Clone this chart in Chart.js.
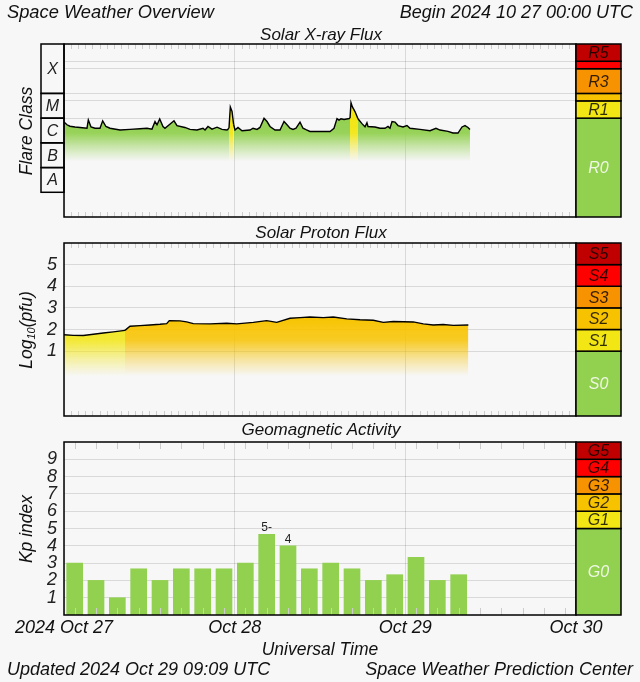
<!DOCTYPE html>
<html><head><meta charset="utf-8">
<script src="https://cdn.jsdelivr.net/npm/chart.js@4.4.0/dist/chart.umd.min.js"></script>
<style>
html,body{margin:0;padding:0;background:#f7f7f7;}
#wrap{position:relative;width:640px;height:682px;overflow:hidden;font-family:'Liberation Sans',Arial,Helvetica,sans-serif;font-style:italic;color:#111;}
canvas{position:absolute;left:0;top:0;}
.t{position:absolute;white-space:nowrap;line-height:20px;}
.c{text-align:center;width:300px;}
.rot{position:absolute;width:200px;height:20px;line-height:20px;text-align:center;transform:rotate(-90deg);font-size:17.5px;white-space:nowrap;}
.rot sub{font-size:11px;vertical-align:-3px;line-height:0;}
</style></head><body>
<div id="wrap">
<canvas id="cx" width="640" height="682"></canvas>
<canvas id="cp" width="640" height="682"></canvas>
<canvas id="ck" width="640" height="682"></canvas>
<div class="t" style="left:7px;top:2px;font-size:18.3px">Space Weather Overview</div>
<div class="t" style="right:7px;top:2px;font-size:18px">Begin 2024 10 27 00:00 UTC</div>
<div class="t c" style="left:171px;top:25px;font-size:17px">Solar X-ray Flux</div>
<div class="t c" style="left:171px;top:223px;font-size:17px">Solar Proton Flux</div>
<div class="t c" style="left:171px;top:420px;font-size:17px">Geomagnetic Activity</div>
<div class="t c" style="left:170px;top:639px;font-size:17.5px">Universal Time</div>
<div class="t" style="left:7px;top:659px;font-size:18px">Updated 2024 Oct 29 09:09 UTC</div>
<div class="t" style="right:7px;top:659px;font-size:18px">Space Weather Prediction Center</div>
<div class="rot" style="left:-74.5px;top:121px">Flare Class</div>
<div class="rot" style="left:-74.5px;top:320px">Log<sub>10</sub>(pfu)</div>
<div class="rot" style="left:-74.5px;top:518.5px">Kp index</div>
</div>
<script>
const FONT = "'Liberation Sans', Arial, Helvetica, sans-serif";
const LEVEL_COLORS = ['#92d050','#f2e614','#f7c300','#f79200','#ff0000','#c00000'];
const LEVEL_RGB = ['146,208,80','242,230,20','247,195,0','247,146,0','255,0,0','192,0,0'];
const GRID = 'rgba(0,0,0,0.12)';

// shared time axis (hours since 2024-10-27 00:00 UTC)
const dayTickHours = [0, 24, 48, 72];
const dayTickLabels = ['2024 Oct 27', 'Oct 28', 'Oct 29', 'Oct 30'];

// Solar X-ray flux (W/m^2)
const xrayHours = [0.0,0.42,0.84,1.55,2.25,3.23,3.42,3.8,4.36,5.06,5.44,5.9,6.47,7.88,9.28,10.69,11.67,12.37,12.8,13.08,13.46,13.92,14.2,15.47,15.89,17.0,17.72,18.7,19.55,19.83,20.25,20.81,21.52,22.22,22.92,23.2,23.39,23.63,23.86,24.05,24.47,25.03,26.16,26.58,27.14,27.56,28.13,28.55,28.97,29.67,30.38,30.94,31.36,31.78,32.2,32.63,33.19,33.61,34.03,34.59,36.0,37.41,37.97,38.39,38.67,38.95,39.38,39.94,40.22,40.36,40.54,40.92,41.34,41.9,42.33,42.6,42.75,43.73,44.44,45.14,45.56,45.84,46.13,46.55,46.97,47.67,48.23,48.66,50.06,51.47,52.31,52.88,54.0,54.7,55.41,55.97,56.39,56.81,57.09];
const xrayFlux = [6.9e-6,5.4e-6,4.7e-6,4.4e-6,4.2e-6,3.9e-6,8.5e-6,4.4e-6,3.9e-6,3.9e-6,7.8e-6,4.6e-6,3.9e-6,3.3e-6,3.5e-6,3.7e-6,3.9e-6,3.6e-6,7.3e-6,5.4e-6,9.2e-6,4.6e-6,3.9e-6,7.8e-6,5.0e-6,4.2e-6,3.5e-6,3.3e-6,3.9e-6,3.3e-6,4.6e-6,3.6e-6,4.3e-6,3.5e-6,3.3e-6,3.9e-6,2.8e-5,1.85e-5,5.4e-6,3.3e-6,4.2e-6,3.1e-6,3.3e-6,3.9e-6,3.5e-6,4.2e-6,9.8e-6,7.3e-6,4.6e-6,3.3e-6,3.3e-6,7.3e-6,5.4e-6,3.9e-6,3.5e-6,3.9e-6,6.9e-6,3.9e-6,3.4e-6,2.9e-6,2.9e-6,2.9e-6,3.9e-6,9.6e-6,8.3e-6,9.4e-6,8.8e-6,9.4e-6,9.9e-6,4.2e-5,2.9e-5,1.85e-5,9.5e-6,6.0e-6,4.5e-6,6.5e-6,4.6e-6,4.4e-6,3.9e-6,3.9e-6,4.6e-6,3.9e-6,7.3e-6,6.9e-6,5.0e-6,4.4e-6,5.0e-6,3.9e-6,3.5e-6,3.1e-6,3.9e-6,3.3e-6,2.9e-6,2.5e-6,2.5e-6,4.4e-6,5.0e-6,4.2e-6,3.5e-6];
const flareClassBounds = [1e-8, 1e-7, 1e-6, 1e-5, 1e-4, 1e-2];
const flareClassLetters = ['A', 'B', 'C', 'M', 'X'];
const rScaleBounds = [1e-9, 1e-5, 5e-5, 1e-4, 1e-3, 2e-3, 1e-2];
const rScaleLabels = ['R0', 'R1', '', 'R3', '', 'R5'];

// Solar proton flux, log10(pfu)
const protonHours = [0.0,1.31,2.71,4.12,5.53,6.93,8.58,9.28,10.69,12.09,13.5,14.44,14.81,16.31,17.25,18.18,20.53,22.88,24.29,26.62,28.5,29.91,31.78,33.19,34.59,36.46,37.87,39.76,41.63,43.5,44.9,46.31,49.12,50.53,51.93,53.34,54.75,56.86];
const protonLog = [1.76,1.73,1.72,1.78,1.84,1.89,1.96,2.15,2.18,2.21,2.24,2.27,2.41,2.40,2.35,2.27,2.26,2.29,2.26,2.33,2.41,2.33,2.52,2.55,2.58,2.55,2.58,2.49,2.45,2.43,2.33,2.37,2.35,2.26,2.21,2.23,2.19,2.21];
const protonTicks = [1, 2, 3, 4, 5];
const sScaleBounds = [-2, 1, 2, 3, 4, 5, 6];
const sScaleLabels = ['S0', 'S1', 'S2', 'S3', 'S4', 'S5'];

// Planetary Kp index (3-hour periods, centre hour)
const kpHours = [1.5,4.5,7.5,10.5,13.5,16.5,19.5,22.5,25.5,28.5,31.5,34.5,37.5,40.5,43.5,46.5,49.5,52.5,55.5];
const kpValues = [3.00,2.00,1.00,2.67,2.00,2.67,2.67,2.67,3.00,4.67,4.00,2.67,3.00,2.67,2.00,2.33,3.33,2.00,2.33];
const kpTicks = [1, 2, 3, 4, 5, 6, 7, 8, 9];
const gScaleBounds = [0, 5, 6, 7, 8, 9, 10];
const gScaleLabels = ['G0', 'G1', 'G2', 'G3', 'G4', 'G5'];

const W = 640, H = 682, PLOT_LEFT = 64, PLOT_RIGHT = 576, BAR_W = 45;

function levelOf(v, bounds) {
  let l = 0;
  for (let i = 1; i < bounds.length - 1; i++) if (v >= bounds[i]) l = i;
  return l;
}
function kpLabel(v) {
  const whole = Math.round(v), frac = v - whole;
  return whole + (Math.abs(frac) < 0.1 ? '' : (frac < 0 ? '-' : '+'));
}
function vgrad(chart, level, stops) {
  const a = chart.chartArea;
  if (!a) return LEVEL_COLORS[level];
  chart.$grads = chart.$grads || {};
  if (chart.$grads[level]) return chart.$grads[level];
  const y = chart.scales.y;
  const p0 = y.getPixelForValue(stops[0][0]), p1 = y.getPixelForValue(stops[stops.length - 1][0]);
  const g = chart.ctx.createLinearGradient(0, p0, 0, p1);
  stops.forEach(([v, al]) => g.addColorStop(Math.min(1, Math.max(0, (y.getPixelForValue(v) - p0) / (p1 - p0))), 'rgba(' + LEVEL_RGB[level] + ',' + al + ')'));
  chart.$grads[level] = g;
  return g;
}

const panelCfg = {};
const panelPlugin = {
  id: 'panel',
  afterDraw(chart) {
    const cfg = panelCfg[chart.canvas.id];
    const {ctx, chartArea: a} = chart;
    const x = chart.scales.x, y = chart.scales.y;
    ctx.save();
    // minor time ticks
    ctx.strokeStyle = '#cdcdcd'; ctx.lineWidth = 1;
    ctx.beginPath();
    cfg.minorHours.forEach(h => {
      const px = Math.round(x.getPixelForValue(h)) + 0.5;
      ctx.moveTo(px, a.top); ctx.lineTo(px, a.top + cfg.minorLen);
      ctx.moveTo(px, a.bottom); ctx.lineTo(px, a.bottom - cfg.minorLen);
    });
    ctx.stroke();
    // plot frame
    ctx.strokeStyle = '#000'; ctx.lineWidth = 1.5;
    ctx.strokeRect(a.left, a.top, a.right - a.left, a.bottom - a.top);
    // scale bar
    for (let i = 0; i < cfg.scaleLabels.length; i++) {
      const yb = y.getPixelForValue(cfg.scaleBounds[i]), yt = y.getPixelForValue(cfg.scaleBounds[i + 1]);
      ctx.fillStyle = LEVEL_COLORS[i];
      ctx.fillRect(a.right, yt, BAR_W, yb - yt);
      ctx.strokeRect(a.right, yt, BAR_W, yb - yt);
      if (cfg.scaleLabels[i]) {
        ctx.font = 'italic 16px ' + FONT;
        ctx.textAlign = 'center'; ctx.textBaseline = 'middle';
        ctx.fillStyle = i === 0 ? 'rgba(255,255,255,0.85)' : 'rgba(0,0,0,0.8)';
        ctx.fillText(cfg.scaleLabels[i], a.right + BAR_W / 2, (yb + yt) / 2 + 1);
      }
    }
    // flare class box
    if (cfg.classBounds) {
      const bx = a.left - 23;
      for (let i = 0; i < cfg.classLetters.length; i++) {
        const yb = y.getPixelForValue(cfg.classBounds[i]), yt = y.getPixelForValue(cfg.classBounds[i + 1]);
        ctx.strokeRect(bx, yt, a.left - bx, yb - yt);
        ctx.font = 'italic 16px ' + FONT;
        ctx.textAlign = 'center'; ctx.textBaseline = 'middle';
        ctx.fillStyle = '#222';
        ctx.fillText(cfg.classLetters[i], (bx + a.left) / 2, (yb + yt) / 2 + 1);
      }
    }
    // Kp value labels
    if (cfg.kpLabels) {
      const meta = chart.getDatasetMeta(0);
      ctx.font = '12px ' + FONT; ctx.fillStyle = '#222';
      ctx.textAlign = 'center'; ctx.textBaseline = 'alphabetic';
      meta.data.forEach((bar, i) => {
        const v = kpValues[i];
        if (v >= 4) ctx.fillText(kpLabel(v), bar.x, bar.y - 3);
      });
    }
    ctx.restore();
  }
};

function makeChart(id, top, bottom, yOpts, datasets, showX) {
  const xH = showX ? 30 : 0;
  return new Chart(document.getElementById(id), {
    data: {datasets},
    options: {
      responsive: false, animation: false, devicePixelRatio: 1,
      layout: {autoPadding: false, padding: {left: PLOT_LEFT - 24, right: W - PLOT_RIGHT, top: top, bottom: H - bottom - xH}},
      plugins: {legend: {display: false}, tooltip: {enabled: false}},
      scales: {
        x: {
          type: 'linear', min: 0, max: 72, z: 1, offset: false,
          afterFit(s) { s.height = xH; },
          afterBuildTicks(s) { s.ticks = dayTickHours.map(v => ({value: v})); },
          grid: {color: GRID, drawTicks: false, offset: false}, border: {display: false},
          ticks: {display: showX, padding: 2, color: '#111', maxRotation: 0, autoSkip: false,
            font: {family: FONT, size: 18, style: 'italic'},
            callback: (v, i) => dayTickLabels[i]}
        },
        y: Object.assign({
          z: 1,
          afterFit(s) { s.width = 24; },
          grid: {color: GRID, drawTicks: false}, border: {display: false}
        }, yOpts)
      }
    },
    plugins: [panelPlugin]
  });
}

const hourly = [];
for (let h = 1; h < 72; h++) if (h % 24) hourly.push(h);
const threeHourly = [];
for (let h = 1.5; h < 72; h += 3) threeHourly.push(h);

// X-ray panel
panelCfg.cx = {minorHours: hourly, minorLen: 5, scaleBounds: rScaleBounds, scaleLabels: rScaleLabels,
  classBounds: flareClassBounds, classLetters: flareClassLetters};
const xrayStops = [[1e-5, 1], [2.5e-6, 0.95], [7e-7, 0.45], [1.8e-7, 0]];
makeChart('cx', 44, 217, {
  type: 'logarithmic', min: 1e-9, max: 1e-2,
  afterBuildTicks(s) { s.ticks = rScaleBounds.slice(1, -1).map(v => ({value: v})); },
  ticks: {display: false}
}, [{
  type: 'line',
  data: xrayHours.map((h, i) => ({x: h, y: xrayFlux[i]})),
  borderColor: '#000', borderWidth: 1.4, pointRadius: 0, tension: 0,
  fill: 'start',
  backgroundColor: ctx => vgrad(ctx.chart, 0, xrayStops),
  segment: {
    backgroundColor: ctx => {
      const l = levelOf(Math.max(ctx.p0.parsed.y, ctx.p1.parsed.y), rScaleBounds);
      return vgrad(ctx.chart, l, xrayStops);
    }
  }
}], false);

// Proton panel
panelCfg.cp = {minorHours: hourly, minorLen: 5, scaleBounds: sScaleBounds, scaleLabels: sScaleLabels};
const protonStops = [[2.6, 1], [1.5, 0.85], [0.6, 0.35], [-0.15, 0]];
makeChart('cp', 243, 416, {
  type: 'linear', min: -2, max: 6,
  afterBuildTicks(s) { s.ticks = protonTicks.map(v => ({value: v})); },
  ticks: {padding: 7, autoSkip: false, color: '#222', font: {family: FONT, size: 18, style: 'italic'}}
}, [{
  type: 'line',
  data: protonHours.map((h, i) => ({x: h, y: protonLog[i]})),
  borderColor: '#000', borderWidth: 1.4, pointRadius: 0, tension: 0,
  fill: 'start',
  backgroundColor: ctx => vgrad(ctx.chart, 1, protonStops),
  segment: {
    backgroundColor: ctx => {
      const l = levelOf(Math.max(ctx.p0.parsed.y, ctx.p1.parsed.y), sScaleBounds);
      return vgrad(ctx.chart, Math.max(1, l), protonStops);
    }
  }
}], false);

// Kp panel
panelCfg.ck = {minorHours: threeHourly, minorLen: 7, scaleBounds: gScaleBounds, scaleLabels: gScaleLabels, kpLabels: true};
makeChart('ck', 442, 615, {
  type: 'linear', min: 0, max: 10,
  afterBuildTicks(s) { s.ticks = kpTicks.map(v => ({value: v})); },
  ticks: {padding: 7, autoSkip: false, color: '#222', font: {family: FONT, size: 18, style: 'italic'}}
}, [{
  type: 'bar',
  data: kpHours.map((h, i) => ({x: h, y: kpValues[i]})),
  backgroundColor: kpValues.map(v => LEVEL_COLORS[levelOf(v, gScaleBounds)]),
  borderWidth: 0, barThickness: 16
}], true);
</script>
</body></html>
